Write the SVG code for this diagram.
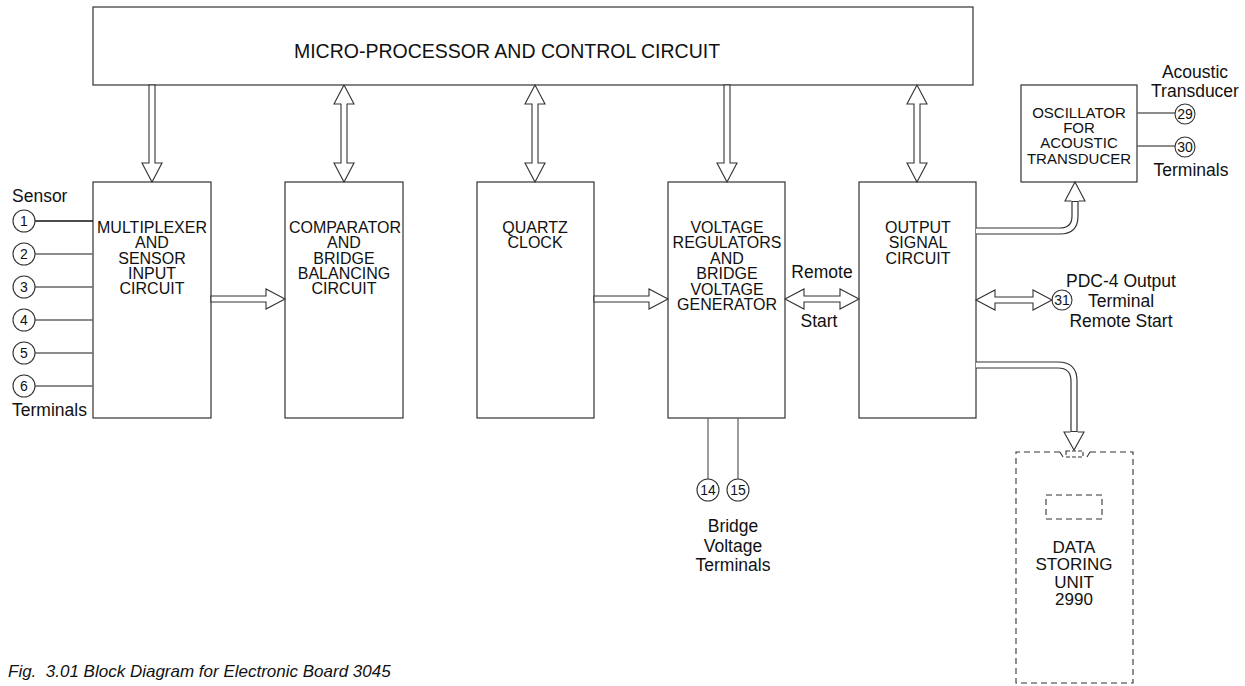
<svg xmlns="http://www.w3.org/2000/svg" width="1245" height="686" viewBox="0 0 1245 686">
<style>
.box{fill:#fff;stroke:#333;stroke-width:1.2}
.dash{fill:none;stroke:#333;stroke-width:1.1;stroke-dasharray:6,4}
text{font-family:"Liberation Sans",Arial,sans-serif;fill:#111}
.t{font-size:16px;text-anchor:middle}
.lbl{font-size:17.5px;text-anchor:middle}
.num{font-size:14px;text-anchor:middle}
.arr{fill:#fff;stroke:#333;stroke-width:1.1;stroke-linejoin:miter}
.so{fill:none;stroke:#333;stroke-width:7.2}
.si{fill:none;stroke:#fff;stroke-width:4.8}
.hf{fill:#fff;stroke:none}
.hs{fill:none;stroke:#333;stroke-width:1.1}
.wire{stroke:#666;stroke-width:1.3}
.tc{fill:#fff;stroke:#333;stroke-width:1.1}
</style>
<g id="micro">
<rect class="box" x="93" y="7" width="880" height="78"/>
<text x="507" y="58" style="font-size:19.5px;text-anchor:middle">MICRO-PROCESSOR AND CONTROL CIRCUIT</text>
</g>
<g id="mux">
<rect class="box" x="93" y="182" width="118" height="236"/>
<text class="t"><tspan x="152" y="233">MULTIPLEXER</tspan><tspan x="152" y="248">AND</tspan><tspan x="152" y="264">SENSOR</tspan><tspan x="152" y="279">INPUT</tspan><tspan x="152" y="294">CIRCUIT</tspan></text>
</g>
<g id="comparator">
<rect class="box" x="285" y="182" width="118" height="236"/>
<text class="t"><tspan x="345" y="233">COMPARATOR</tspan><tspan x="344" y="248">AND</tspan><tspan x="344" y="264">BRIDGE</tspan><tspan x="344" y="279">BALANCING</tspan><tspan x="344" y="294">CIRCUIT</tspan></text>
</g>
<g id="quartz">
<rect class="box" x="477" y="182" width="117" height="236"/>
<text class="t"><tspan x="535" y="233">QUARTZ</tspan><tspan x="535" y="248">CLOCK</tspan></text>
</g>
<g id="voltage">
<rect class="box" x="668" y="182" width="117" height="236"/>
<text class="t"><tspan x="727" y="233">VOLTAGE</tspan><tspan x="727" y="248">REGULATORS</tspan><tspan x="727" y="264">AND</tspan><tspan x="727" y="279">BRIDGE</tspan><tspan x="727" y="295">VOLTAGE</tspan><tspan x="727" y="310">GENERATOR</tspan></text>
</g>
<g id="output">
<rect class="box" x="859" y="182" width="117" height="236"/>
<text class="t"><tspan x="918" y="233">OUTPUT</tspan><tspan x="918" y="248">SIGNAL</tspan><tspan x="918" y="264">CIRCUIT</tspan></text>
</g>
<g id="oscillator">
<rect class="box" x="1021" y="85" width="116" height="97"/>
<text class="t" style="font-size:15px"><tspan x="1079" y="118">OSCILLATOR</tspan><tspan x="1079" y="133">FOR</tspan><tspan x="1079" y="148">ACOUSTIC</tspan><tspan x="1079" y="164">TRANSDUCER</tspan></text>
</g>
<g id="datastore">
<path class="dash" d="M1060,452 H1016 V683 H1133 V452 H1090"/>
<path class="dash" d="M1060,452 L1063,457 M1087,457 L1090,452" style="stroke-dasharray:none"/>
<rect class="dash" x="1066" y="451" width="17" height="6" style="stroke-dasharray:4,2"/>
<rect class="dash" x="1046" y="495" width="56" height="24"/>
<text style="font-size:17px;text-anchor:middle"><tspan x="1074" y="553">DATA</tspan><tspan x="1074" y="570">STORING</tspan><tspan x="1074" y="588">UNIT</tspan><tspan x="1074" y="605">2990</tspan></text>
</g>
<g id="sensor-terminals">
<line class="wire" x1="35" y1="221" x2="93" y2="221" style="stroke:#111"/>
<line class="wire" x1="35" y1="254" x2="93" y2="254"/>
<line class="wire" x1="35" y1="287" x2="93" y2="287"/>
<line class="wire" x1="35" y1="320" x2="93" y2="320"/>
<line class="wire" x1="35" y1="353" x2="93" y2="353"/>
<line class="wire" x1="35" y1="386" x2="93" y2="386"/>
<circle class="tc" cx="24" cy="221" r="11"/><text class="num" x="24" y="226">1</text>
<circle class="tc" cx="24" cy="254" r="11"/><text class="num" x="24" y="259">2</text>
<circle class="tc" cx="24" cy="287" r="11"/><text class="num" x="24" y="292">3</text>
<circle class="tc" cx="24" cy="320" r="11"/><text class="num" x="24" y="325">4</text>
<circle class="tc" cx="24" cy="353" r="11"/><text class="num" x="24" y="358">5</text>
<circle class="tc" cx="24" cy="386" r="11"/><text class="num" x="24" y="391">6</text>
<text x="12" y="202" style="font-size:17.5px">Sensor</text>
<text x="12" y="416" style="font-size:17.5px">Terminals</text>
</g>
<g id="bridge-terminals">
<line class="wire" x1="708" y1="418" x2="708" y2="479"/>
<line class="wire" x1="738" y1="418" x2="738" y2="479"/>
<circle class="tc" cx="708" cy="490" r="11"/><text class="num" x="708" y="495">14</text>
<circle class="tc" cx="738" cy="490" r="11"/><text class="num" x="738" y="495">15</text>
<text class="lbl"><tspan x="733" y="532">Bridge</tspan><tspan x="733" y="552">Voltage</tspan><tspan x="733" y="571">Terminals</tspan></text>
</g>
<g id="acoustic-terminals">
<line class="wire" x1="1137" y1="113" x2="1175" y2="113"/>
<line class="wire" x1="1137" y1="146" x2="1175" y2="146"/>
<circle class="tc" cx="1185" cy="114" r="10"/><text class="num" x="1185" y="119">29</text>
<circle class="tc" cx="1185" cy="147" r="10"/><text class="num" x="1185" y="152">30</text>
<text class="lbl"><tspan x="1195" y="78">Acoustic</tspan><tspan x="1195" y="97">Transducer</tspan><tspan x="1191" y="176">Terminals</tspan></text>
</g>
<g id="remote-terminal">
<circle class="tc" cx="1062" cy="300" r="10"/><text class="num" x="1062" y="305">31</text>
<text class="lbl"><tspan x="1121" y="287">PDC-4 Output</tspan><tspan x="1121" y="307">Terminal</tspan><tspan x="1121" y="327">Remote Start</tspan></text>
</g>
<g id="connectors">
<polygon class="arr" points="149,85 155,85 155,163 162,163 152,182 142,163 149,163"/>
<polygon class="arr" points="344,85 354,104 347,104 347,163 354,163 344,182 334,163 341,163 341,104 334,104"/>
<polygon class="arr" points="535,85 545,104 538,104 538,163 545,163 535,182 525,163 532,163 532,104 525,104"/>
<polygon class="arr" points="724,85 730,85 730,163 737,163 727,182 717,163 724,163"/>
<polygon class="arr" points="917,85 927,104 920,104 920,163 927,163 917,182 907,163 914,163 914,104 907,104"/>
<polygon class="arr" points="211,296 266,296 266,289 285,299 266,309 266,302 211,302"/>
<polygon class="arr" points="594,296 649,296 649,289 668,299 649,309 649,302 594,302"/>
<polygon class="arr" points="785,299 804,289 804,296 840,296 840,289 859,299 840,309 840,302 804,302 804,309"/>
<polygon class="arr" points="976,300 995,290 995,297 1033,297 1033,290 1052,300 1033,310 1033,303 995,303 995,310"/>
<path class="so" d="M976,231 H1060 Q1075,231 1075,216 V201"/>
<path class="si" d="M976,231 H1060 Q1075,231 1075,216 V202"/>
<polygon class="hf" points="1065,201 1075,182 1085,201"/>
<path class="hs" d="M1071.4,201 H1065 L1075,182 L1085,201 H1078.6"/>
<path class="so" d="M976,365 H1058 Q1074,365 1074,381 V432"/>
<path class="si" d="M976,365 H1058 Q1074,365 1074,381 V431"/>
<polygon class="hf" points="1064,432 1074,450 1084,432"/>
<path class="hs" d="M1070.4,432 H1064 L1074,450 L1084,432 H1077.6"/>
<text x="822" y="278" class="lbl">Remote</text>
<text x="819" y="327" class="lbl">Start</text>
</g>
<text x="8" y="677" xml:space="preserve" style="font-size:17px;font-style:italic">Fig.  3.01 Block Diagram for Electronic Board 3045</text>
</svg>
